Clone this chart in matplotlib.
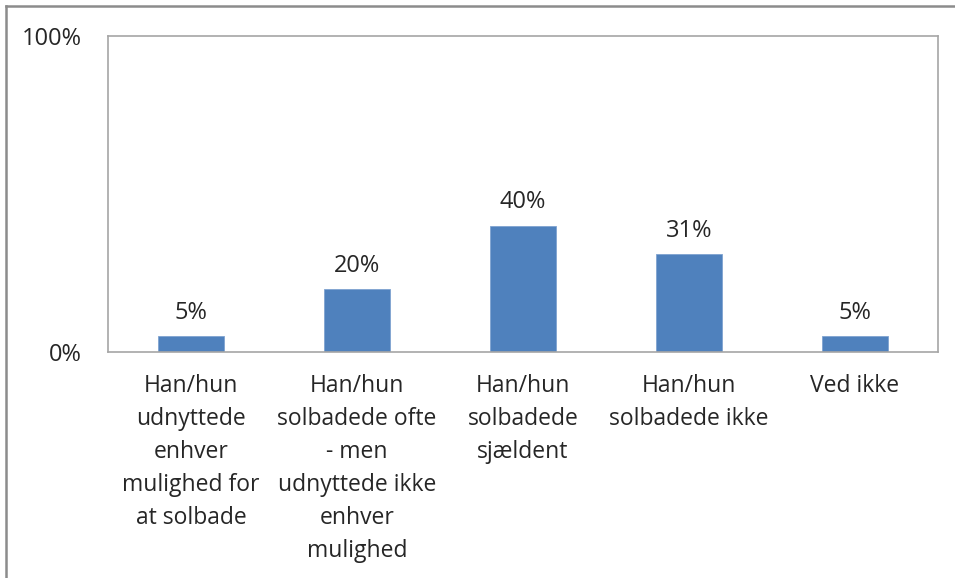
import matplotlib.pyplot as plt
from matplotlib.lines import Line2D

plt.rcParams['font.family'] = ['Open Sans', 'DejaVu Sans']

categories = [
    'Han/hun\nudnyttede\nenhver\nmulighed for\nat solbade',
    'Han/hun\nsolbadede ofte\n- men\nudnyttede ikke\nenhver\nmulighed',
    'Han/hun\nsolbadede\nsjældent',
    'Han/hun\nsolbadede ikke',
    'Ved ikke',
]
shares = [5, 20, 40, 31, 5]
yticks = [0, 100]
ytick_labels = ['0%', '100%']

W, H = 955, 578
fig = plt.figure(figsize=(W / 100, H / 100), dpi=100)
ax = fig.add_axes([108 / W, 1 - 352 / H, (938 - 108) / W, (352 - 36) / H])

x = range(len(categories))
ax.bar(x, shares, width=0.4, color='#4F81BD', edgecolor='#7FA3D0', linewidth=0.6, zorder=2)
for i, v in zip(x, shares):
    ax.annotate(f'{v}%', (i, v), xytext=(0, 8), textcoords='offset points',
                ha='center', va='bottom', fontsize=17, color='#262626')

ax.set_xlim(-0.5, len(categories) - 0.5)
ax.set_ylim(0, 100)
ax.set_yticks(yticks)
ax.set_yticklabels(ytick_labels, fontsize=17, color='#262626')
ax.set_xticks(list(x))
ax.set_xticklabels(categories, fontsize=16.5, color='#262626', linespacing=1.5, va='top')
ax.tick_params(axis='y', length=0, pad=19)
ax.tick_params(axis='x', length=0, pad=16)
for s in ax.spines.values():
    s.set_color('#A6A6A6')
    s.set_linewidth(1.2)

# outer chart border (left and top edges)
fig.add_artist(Line2D([6 / W, 6 / W], [0, 1 - 6 / H], color='#8C8C8C', lw=1.8, transform=fig.transFigure))
fig.add_artist(Line2D([6 / W, 1], [1 - 6 / H, 1 - 6 / H], color='#8C8C8C', lw=1.8, transform=fig.transFigure))

fig.savefig('out.png', dpi=100, facecolor='white')
